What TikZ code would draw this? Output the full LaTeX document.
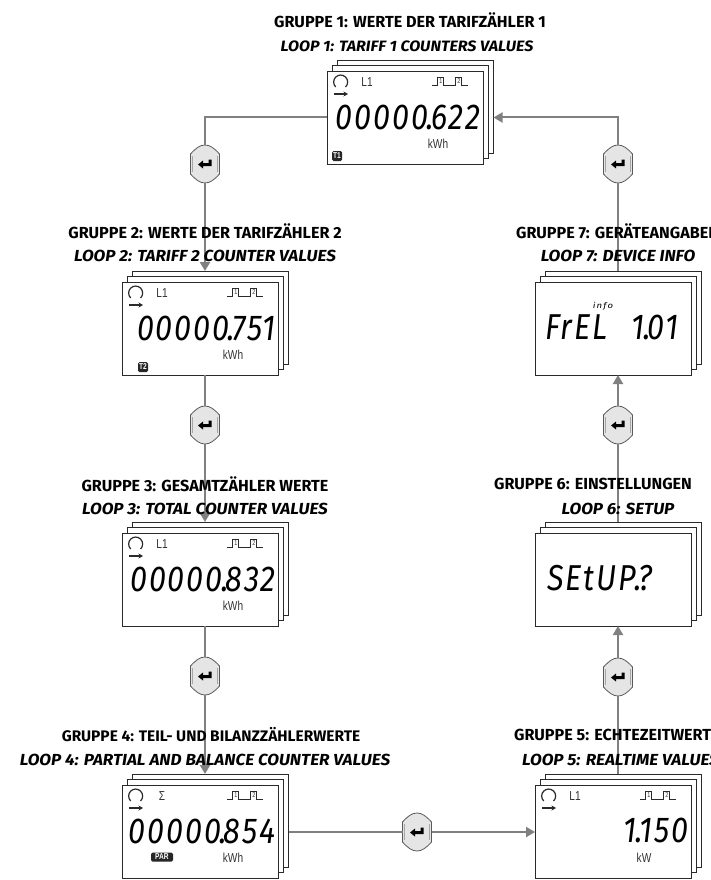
\documentclass[tikz,border=0pt]{standalone}
\usepackage{fontspec}
\setmainfont{Fira Sans}
\newfontfamily\ttlfont[FakeStretch=1.01]{Fira Sans}
\newfontfamily\subfont[FakeStretch=1.07]{Fira Sans}
\newfontfamily\lcdfont[FakeStretch=.85,LetterSpace=5.5]{Fira Sans}
\newfontfamily\infofont[FakeStretch=1.2,LetterSpace=15]{Fira Sans}
\newfontfamily\cond[FakeStretch=.78]{Liberation Sans}
\usetikzlibrary{arrows.meta,calc}
\definecolor{conn}{HTML}{808080}
\definecolor{edge}{HTML}{2A2A2A}
\tikzset{
 scr/.style={draw=edge,fill=white,line width=.9pt,minimum width=156pt,minimum height=93pt,inner sep=0pt,outer sep=0pt},
 btnbox/.style={minimum width=29pt,minimum height=38pt,inner sep=0pt,outer sep=0pt},
 wire/.style={draw=conn,line width=2pt},
 wirea/.style={wire,-{Triangle[length=9pt,width=10pt]}},
 ttl/.style={inner sep=0pt,font=\ttlfont\bfseries\fontsize{16}{18}\selectfont},
 sub/.style={inner sep=0pt,font=\subfont\bfseries\itshape\fontsize{16}{18}\selectfont},
 lcd/.style={inner sep=0pt,font=\lcdfont\itshape\fontsize{36}{38}\selectfont},
 small/.style={inner sep=0pt,font=\cond\fontsize{13}{14}\selectfont,text=black!80},
 badge/.style={fill=black!85,text=white,rounded corners=1.5pt,inner sep=0pt,font=\cond\bfseries\fontsize{8.5}{9}\selectfont},
}
\newcommand{\ldot}{\kern-1.5pt.\kern-3pt}
% stack of three screens: name, left, top of the front one
\newcommand{\stack}[3]{%
 \node[scr] (#1c) at (#2+88.5,#3+35.5) {};
 \node[scr] (#1b) at (#2+83,#3+41) {};
 \node[scr] (#1) at (#2+78,#3+46.5) {};
}
% loop icon and pulses
\newcommand{\icons}[3]{%
 \draw[edge,line width=1.2pt] (#1+8.7,#2+16) arc[start angle=225,end angle=-45,radius=7pt];
 \draw[edge,line width=1.2pt,-{Stealth[length=4.5pt,width=5pt]}] (#1+7,#2+23) -- (#1+21,#2+23);
 \draw[edge,line width=.7pt] (#1+105.3,#2+14.5) -- (#1+110.7,#2+14.5) -- (#1+110.7,#2+6) -- (#1+116.3,#2+6) -- (#1+116.3,#2+14.5) -- (#1+128,#2+14.5) -- (#1+128,#2+6) -- (#1+134.7,#2+6) -- (#1+134.7,#2+14.5) -- (#1+141.3,#2+14.5);
 \node[small,font=\cond\fontsize{7}{7}\selectfont] at (#1+114,#2+10.5) {1};
 \node[small,font=\cond\fontsize{7}{7}\selectfont] at (#1+132,#2+10.5) {2};
 \node[small] at (#1+40,#2+11) {#3};
}
% push button
\newcommand{\btn}[3]{%
 \node[btnbox] (#1) at (#2,#3) {};
 \draw[draw=black!65,fill=black!10,line width=.8pt] (#2-14.5,#3-10) .. controls (#2-9,#3-16) and (#2-5,#3-19) .. (#2,#3-19) .. controls (#2+5,#3-19) and (#2+9,#3-16) .. (#2+14.5,#3-10) -- (#2+14.5,#3+10) .. controls (#2+9,#3+16) and (#2+5,#3+19) .. (#2,#3+19) .. controls (#2-5,#3+19) and (#2-9,#3+16) .. (#2-14.5,#3+10) -- cycle;
 \draw[draw=black!35,line width=.5pt] (#2+12.5,#3-8) -- (#2+12.5,#3+8);
 \draw[draw=black!35,line width=.5pt] (#2-12.5,#3-8) -- (#2-12.5,#3+8);
 \fill[black] (#2-7,#3+.5) -- (#2-2,#3-3.5) -- (#2-2,#3-1) -- (#2+3.5,#3-1) -- (#2+3.5,#3-4.5) -- (#2+6.5,#3-4.5) -- (#2+6.5,#3+2.2) -- (#2-2,#3+2.2) -- (#2-2,#3+4.5) -- cycle;
}
\begin{document}
\begin{tikzpicture}[x=1pt,y=-1pt]
\clip (0,0) rectangle (710,880);
\fill[white] (0,0) rectangle (710,880);
% screens
\stack{ga}{327}{71}
\stack{gb}{122}{282}
\stack{gc}{122}{533}
\stack{gd}{122}{785}
\stack{ge}{535}{785}
\stack{gf}{535}{533}
\stack{gg}{535}{282}
% buttons
\btn{ba}{205}{164}
\btn{bb}{205}{425}
\btn{bc}{205}{676}
\btn{bd}{417}{832}
\btn{be}{618}{677}
\btn{bf}{618}{425}
\btn{bg}{618}{164}
% connectors
\draw[wire] (ga.west) -| (ba.north);
\draw[wirea] (ba.south) -- (gbc.north -| ba);
\draw[wire] (gb.south -| bb) -- (bb.north);
\draw[wirea] (bb.south) -- (gcc.north -| bb);
\draw[wire] (gc.south -| bc) -- (bc.north);
\draw[wirea] (bc.south) -- (gdc.north -| bc);
\draw[wire] (gdc.east |- bd) -- (bd.west);
\draw[wirea] (bd.east) -- (ge.west |- bd);
\draw[wire] (gec.north -| be) -- (be.south);
\draw[wirea] (be.north) -- (gf.south -| be);
\draw[wire] (gfc.north -| bf) -- (bf.south);
\draw[wirea] (bf.north) -- (gg.south -| bf);
\draw[wire] (ggc.north -| bg) -- (bg.south);
\draw[wirea] (bg.north) |- (gac.east |- ga);
% titles
\node[ttl] (ta) at (410,20) {GRUPPE 1: WERTE DER TARIFZÄHLER 1};
\node[sub,font=\subfont\bfseries\itshape\fontsize{15}{18}\selectfont] (sa) at (407,46) {LOOP 1: TARIFF 1 COUNTERS VALUES};
\node[ttl] (tb) at (205,231) {GRUPPE 2: WERTE DER TARIFZÄHLER 2};
\node[sub] (sb) at (205,256) {LOOP 2: TARIFF 2 COUNTER VALUES};
\node[ttl] (tc) at (205,484) {GRUPPE 3: GESAMTZÄHLER WERTE};
\node[sub] (sc) at (205,509) {LOOP 3: TOTAL COUNTER VALUES};
\node[ttl,font=\ttlfont\bfseries\fontsize{15.3}{18}\selectfont] (td) at (211,735) {GRUPPE 4: TEIL- UND BILANZZÄHLERWERTE};
\node[sub] (sd) at (205,760) {LOOP 4: PARTIAL AND BALANCE COUNTER VALUES};
\node[ttl,anchor=west] (te) at (514,735) {GRUPPE 5: ECHTEZEITWERTE};
\node[sub,anchor=west] (se) at (522,760) {LOOP 5: REALTIME VALUES};
\node[ttl,anchor=west] (tf) at (494,484) {GRUPPE 6: EINSTELLUNGEN};
\node[sub] (sf) at (618,509) {LOOP 6: SETUP};
\node[ttl,anchor=west] (tg) at (516,231) {GRUPPE 7: GERÄTEANGABEN};
\node[sub] (sg) at (618,256) {LOOP 7: DEVICE INFO};
% screen contents
\icons{327}{71}{L1}
\node[lcd,anchor=east] (va) at (481,117) {00000\ldot 622};
\node[small] (ua) at (438,144) {kWh};
\node[badge,minimum width=10pt,minimum height=10pt] (ka) at (337,156) {T1};
\icons{122}{282}{L1}
\node[lcd,anchor=east] (vb) at (276,328) {00000\ldot 751};
\node[small] (ub) at (233,355) {kWh};
\node[badge,minimum width=10pt,minimum height=10pt] (kb) at (143,367) {T2};
\icons{122}{533}{L1}
\node[lcd,anchor=east] (vc) at (276,579) {00000\ldot 832};
\node[small] (uc) at (233,606) {kWh};
\icons{122}{785}{Σ}
\node[lcd,anchor=east] (vd) at (276,831) {00000\ldot 854};
\node[small] (ud) at (233,858) {kWh};
\node[badge,minimum width=22pt,minimum height=9pt] (kd) at (162,857) {PAR};
\icons{535}{785}{L1}
\node[lcd,anchor=east] (ve) at (689,830) {1\ldot 150};
\node[small] (ue) at (644,858) {kW};
\node[lcd,anchor=west] (vf) at (547,578) {SEtUP\ldot ?};
\node[lcd,anchor=west] (vg) at (545,327) {FrEL\hspace{24pt}1\ldot 01};
\node[inner sep=0pt,font=\infofont\itshape\fontsize{8}{8}\selectfont] (ig) at (603,306) {info};
\end{tikzpicture}
\end{document}
